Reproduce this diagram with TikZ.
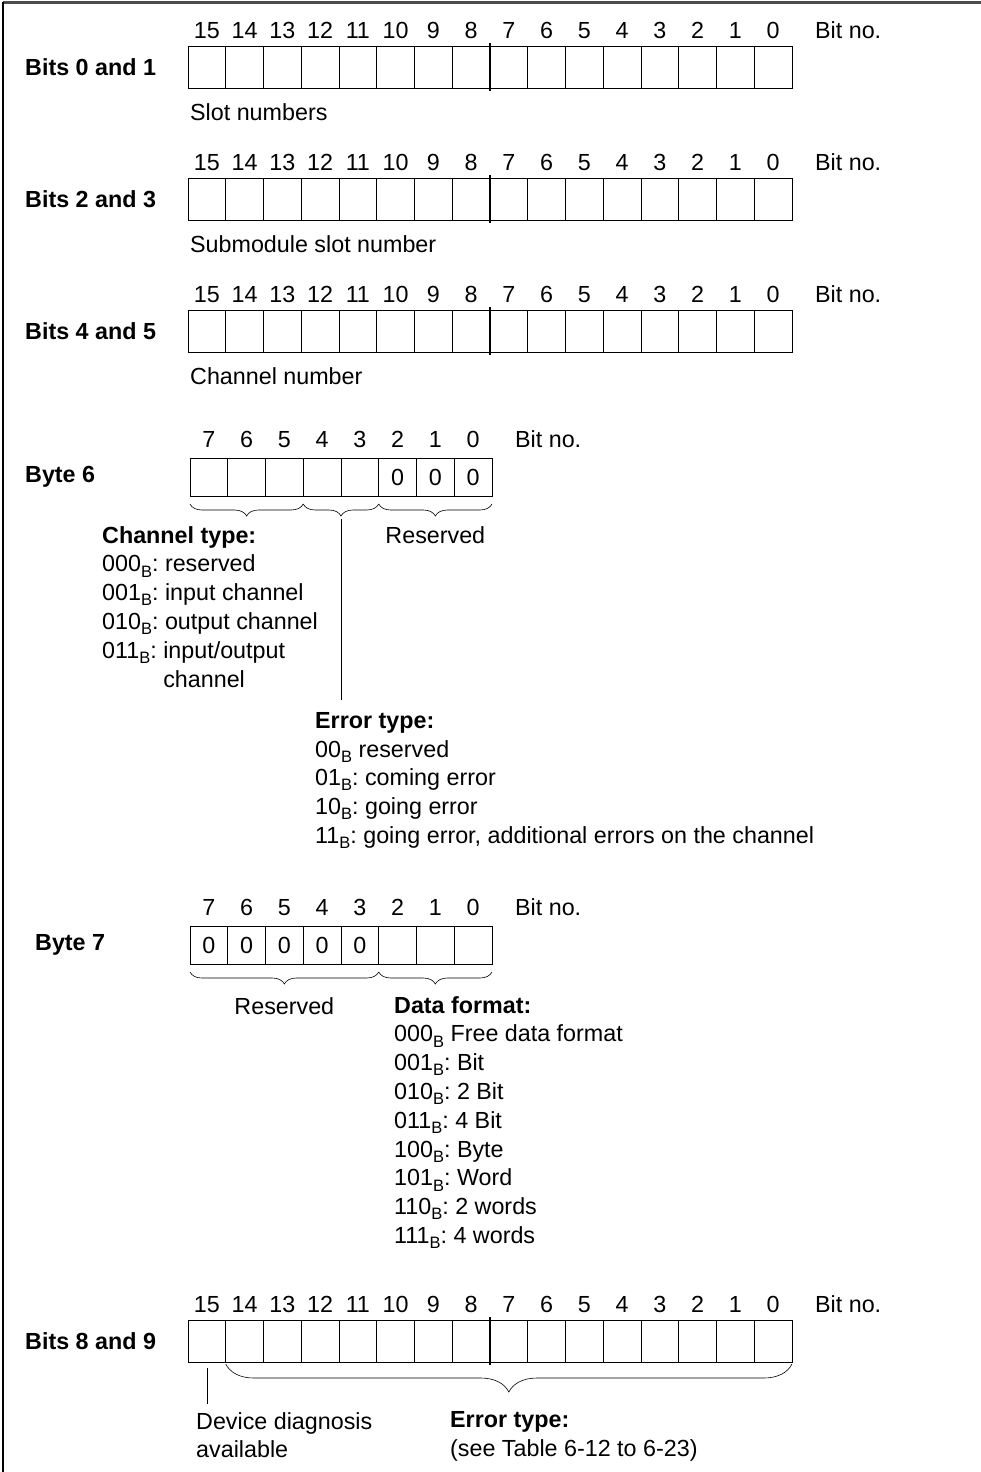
\documentclass[tikz,border=0pt]{standalone}
\usepackage{fontspec}
\setmainfont{Liberation Sans}
\usetikzlibrary{decorations.pathreplacing}
\newcommand{\subB}{\raisebox{-0.22em}{\fontsize{16.5}{16.5}\selectfont B}}
\frenchspacing

\begin{document}
\begin{tikzpicture}[x=1pt, y=1pt,
    every node/.style={inner sep=0pt, font=\fontsize{23.3}{28.8}\selectfont},
    cell/.style={draw, line width=0.9pt, minimum width=37.75pt, minimum height=42pt, outer sep=0pt},
    bytecell/.style={cell, minimum height=38pt},
    bitnum/.style={anchor=base},
    title/.style={anchor=west, font=\fontsize{23.3}{28.8}\selectfont\bfseries},
    note/.style={anchor=north west, align=left},
    brace/.style={decorate, decoration={brace, amplitude=12pt}, line width=0.6pt},
    widebrace/.style={brace, decoration={brace, amplitude=28pt}},
    lead/.style={line width=0.6pt}
  ]
  \useasboundingbox (0,0) rectangle (981,-1472);
  \draw[line width=2.6pt, black!70] (981,-2.5) -- (3,-2.5);
  \draw[line width=2.6pt] (3,-2.5) -- (3,-1472);

  % 16-bit words
  \foreach \r/\y/\t in {w01/46/Bits 0 and 1, w23/178/Bits 2 and 3, w45/310/Bits 4 and 5, w89/1320/Bits 8 and 9} {
    \foreach \b in {0,...,15} {
      \node[cell] (\r-\b) at ({773.1-\b*37.75}, {-\y-21}) {};
      \node[bitnum] (\r-n\b) at ([yshift=7.7pt]\r-\b.north) {\b};
    }
    \draw[line width=2pt] ([yshift=3pt]\r-7.north west) -- ([yshift=-3pt]\r-7.south west);
    \node[anchor=base west] (\r-bitno) at ([xshift=23pt, yshift=7.7pt]\r-0.north east) {Bit no.};
    \node[title] (\r-title) at (25, {-\y-21}) {\t};
  }

  \node[anchor=west] (slot)   at ([xshift=2pt, yshift=-24pt]w01-15.south west) {Slot numbers};
  \node[anchor=west] (submod) at ([xshift=2pt, yshift=-24pt]w23-15.south west) {Submodule slot number};
  \node[anchor=west] (chnum)  at ([xshift=2pt, yshift=-24pt]w45-15.south west) {Channel number};

  % bytes
  \foreach \r/\y/\t/\lx in {by6/458/Byte 6/25, by7/926/Byte 7/35} {
    \foreach \b in {0,...,7} {
      \node[bytecell] (\r-\b) at ({473.1-\b*37.75}, {-\y-19}) {};
      \node[bitnum] (\r-n\b) at ([yshift=10.5pt]\r-\b.north) {\b};
    }
    \node[anchor=base west] (\r-bitno) at ([xshift=23pt, yshift=10.5pt]\r-0.north east) {Bit no.};
    \node[title] (\r-title) at (\lx, {-\y-19}) {\t};
  }
  \foreach \b in {0,1,2}
    \node[bitnum] (z6-\b) at ([yshift=-8.3pt]by6-\b.center) {0};
  \foreach \b in {3,...,7}
    \node[bitnum] (z7-\b) at ([yshift=-8.3pt]by7-\b.center) {0};

  % byte 6
  \draw[brace] ([yshift=-8pt]by6-5.south east) -- ([yshift=-8pt]by6-7.south west);
  \draw[brace] ([yshift=-8pt]by6-3.south east) -- ([yshift=-8pt]by6-4.south west);
  \draw[brace] ([yshift=-8pt]by6-0.south east) -- ([yshift=-8pt]by6-2.south west);
  \coordinate (tip6) at ([yshift=-23pt]by6-4.south east);

  \node[note] (chtype) at (102, -526)
    {\textbf{Channel type:}\\
     000\subB: reserved\\
     001\subB: input channel\\
     010\subB: output channel\\
     011\subB: input/output\\
     \hphantom{011\subB: }channel};
  \node (res6) at ([yshift=-39pt]by6-1.south) {Reserved};

  \node[note] (errtype) at (315, -712)
    {\textbf{Error type:}\\
     00\subB{} reserved\\
     01\subB: coming error\\
     10\subB: going error\\
     11\subB: going error, additional errors on the channel};
  \draw[lead] (tip6) -- ([yshift=12pt]tip6 |- errtype.north);

  % byte 7
  \draw[brace] ([yshift=-8pt]by7-3.south east) -- ([yshift=-8pt]by7-7.south west);
  \draw[brace] ([yshift=-8pt]by7-0.south east) -- ([yshift=-8pt]by7-2.south west);
  \node (res7) at ([yshift=-42pt]by7-5.south) {Reserved};
  \node[note] (datafmt) at (394, -996)
    {\textbf{Data format:}\\
     000\subB{} Free data format\\
     001\subB: Bit\\
     010\subB: 2 Bit\\
     011\subB: 4 Bit\\
     100\subB: Byte\\
     101\subB: Word\\
     110\subB: 2 words\\
     111\subB: 4 words};

  % bits 8 and 9
  \draw[widebrace] ([yshift=-2pt]w89-0.south east) -- ([yshift=-2pt]w89-14.south west);
  \node[note] (devdiag) at (196, -1412) {Device diagnosis\\available};
  \node[note] (errref) at (450, -1411) {\textbf{Error type:}\\(see Table 6-12 to 6-23)};
  \draw[lead] ([yshift=-6pt]w89-15.south) -- ([yshift=8pt]w89-15.south |- devdiag.north);
\end{tikzpicture}
\end{document}
